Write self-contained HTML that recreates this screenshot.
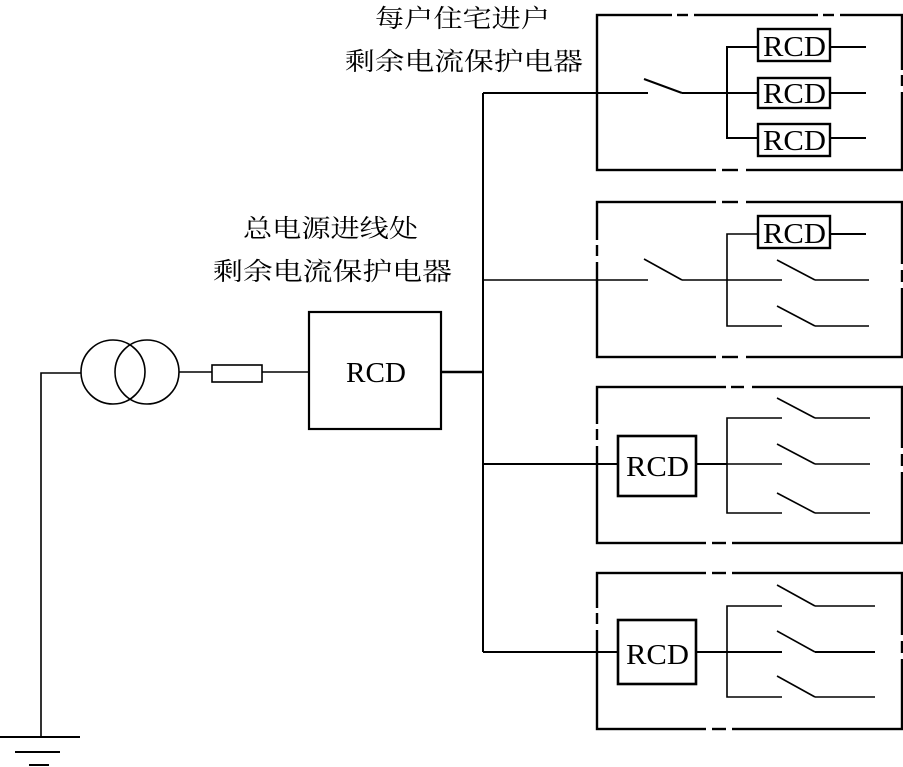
<!DOCTYPE html>
<html><head><meta charset="utf-8"><style>
html,body{margin:0;padding:0;background:#fff;}
svg{display:block;}
text{font-family:"Liberation Serif","Noto Serif CJK SC",serif;fill:#000;}
.cn{font-family:"Liberation Serif","Noto Sans CJK SC",sans-serif;font-size:25px;}
</style></head><body>
<svg width="903" height="767" viewBox="0 0 903 767" xmlns="http://www.w3.org/2000/svg">
<g stroke="#000" fill="none" stroke-width="1.6">
  <polyline points="41,737 41,373 81,373"/>
  <line x1="0" y1="737" x2="80" y2="737" stroke-width="2"/>
  <line x1="15" y1="752" x2="60" y2="752" stroke-width="2"/>
  <line x1="29" y1="765" x2="49" y2="765" stroke-width="2"/>
  <circle cx="113" cy="372" r="32"/>
  <circle cx="147" cy="372" r="32"/>
  <line x1="179" y1="372" x2="212" y2="372"/>
  <rect x="212" y="365" width="50" height="17"/>
  <line x1="262" y1="372" x2="309" y2="372"/>
  <rect x="309" y="312" width="132" height="117" stroke-width="2.2"/>
  <line x1="441" y1="372" x2="483" y2="372" stroke-width="2.6"/>
  <line x1="483" y1="93" x2="483" y2="652" stroke-width="2"/>
  <line x1="483" y1="93" x2="648" y2="93" stroke-width="2"/>
  <line x1="483" y1="280" x2="648" y2="280"/>
  <line x1="483" y1="464" x2="618" y2="464" stroke-width="2"/>
  <line x1="483" y1="652" x2="618" y2="652" stroke-width="2"/>

  <g stroke-width="2.4">
    <rect x="597" y="15" width="305" height="155"/>
    <rect x="597" y="202" width="305" height="155"/>
    <rect x="597" y="387" width="305" height="156"/>
    <rect x="597" y="573" width="305" height="156"/>
  </g>
  <g stroke="#fff" stroke-width="4">
    <line x1="672" y1="15" x2="677" y2="15"/><line x1="688" y1="15" x2="694" y2="15"/>
    <line x1="818" y1="15" x2="823" y2="15"/><line x1="834" y1="15" x2="840" y2="15"/>
    <line x1="716" y1="170" x2="722" y2="170"/><line x1="738" y1="170" x2="746" y2="170"/>
    <line x1="902" y1="70" x2="902" y2="75"/><line x1="902" y1="86" x2="902" y2="92"/>
    <line x1="716" y1="202" x2="722" y2="202"/><line x1="738" y1="202" x2="746" y2="202"/>
    <line x1="716" y1="357" x2="722" y2="357"/><line x1="738" y1="357" x2="746" y2="357"/>
    <line x1="597" y1="240" x2="597" y2="245"/><line x1="597" y1="256" x2="597" y2="262"/>
    <line x1="902" y1="264" x2="902" y2="270"/><line x1="902" y1="282" x2="902" y2="288"/>
    <line x1="726" y1="387" x2="731" y2="387"/><line x1="744" y1="387" x2="752" y2="387"/>
    <line x1="706" y1="543" x2="712" y2="543"/><line x1="726" y1="543" x2="732" y2="543"/>
    <line x1="597" y1="424" x2="597" y2="429"/><line x1="597" y1="440" x2="597" y2="446"/>
    <line x1="902" y1="448" x2="902" y2="454"/><line x1="902" y1="466" x2="902" y2="472"/>
    <line x1="706" y1="573" x2="712" y2="573"/><line x1="726" y1="573" x2="732" y2="573"/>
    <line x1="706" y1="729" x2="712" y2="729"/><line x1="726" y1="729" x2="732" y2="729"/>
    <line x1="597" y1="608" x2="597" y2="613"/><line x1="597" y1="624" x2="597" y2="630"/>
    <line x1="902" y1="635" x2="902" y2="641"/><line x1="902" y1="653" x2="902" y2="659"/>
  </g>

  <line x1="644" y1="79" x2="682" y2="93" stroke-width="2"/>
  <line x1="682" y1="93" x2="758" y2="93" stroke-width="2"/>
  <polyline points="758,47 727,47 727,138 758,138" stroke-width="2"/>
  <g stroke-width="2.4">
    <rect x="758" y="29" width="72" height="32"/>
    <rect x="758" y="78" width="72" height="30"/>
    <rect x="758" y="124" width="72" height="32"/>
  </g>
  <g stroke-width="2">
    <line x1="830" y1="47" x2="866" y2="47"/>
    <line x1="830" y1="93" x2="866" y2="93"/>
    <line x1="830" y1="138" x2="866" y2="138"/>
  </g>

  <line x1="644" y1="259" x2="682" y2="280"/>
  <line x1="682" y1="280" x2="782" y2="280"/>
  <polyline points="758,234 727,234 727,326 782,326"/>
  <rect x="758" y="216" width="72" height="32" stroke-width="2.4"/>
  <line x1="830" y1="234" x2="866" y2="234" stroke-width="2"/>
  <line x1="777" y1="260" x2="815" y2="280"/><line x1="815" y1="280" x2="869" y2="280"/>
  <line x1="777" y1="306" x2="815" y2="326"/><line x1="815" y1="326" x2="869" y2="326"/>

  <rect x="618" y="436" width="78" height="60" stroke-width="2.6"/>
  <line x1="696" y1="464" x2="727" y2="464" stroke-width="2"/>
  <polyline points="782,418 727,418 727,513 782,513"/>
  <line x1="727" y1="464" x2="782" y2="464"/>
  <line x1="777" y1="398" x2="815" y2="418"/><line x1="815" y1="418" x2="870" y2="418"/>
  <line x1="777" y1="444" x2="815" y2="464"/><line x1="815" y1="464" x2="870" y2="464"/>
  <line x1="777" y1="493" x2="815" y2="513"/><line x1="815" y1="513" x2="870" y2="513"/>

  <rect x="618" y="620" width="78" height="64" stroke-width="2.6"/>
  <line x1="696" y1="652" x2="727" y2="652" stroke-width="2"/>
  <polyline points="782,606 727,606 727,697 782,697"/>
  <line x1="727" y1="652" x2="782" y2="652" stroke-width="2"/>
  <line x1="777" y1="585" x2="815" y2="606"/><line x1="815" y1="606" x2="875" y2="606"/>
  <line x1="777" y1="631" x2="815" y2="652"/><line x1="815" y1="652" x2="875" y2="652" stroke-width="2"/>
  <line x1="777" y1="676" x2="815" y2="697"/><line x1="815" y1="697" x2="875" y2="697"/>
</g>

<g>
  <text x="346" y="382" font-size="28" textLength="60" lengthAdjust="spacingAndGlyphs">RCD</text>
  <text x="763" y="56" font-size="28" textLength="63" lengthAdjust="spacingAndGlyphs">RCD</text>
  <text x="763" y="103" font-size="28" textLength="63" lengthAdjust="spacingAndGlyphs">RCD</text>
  <text x="763" y="150" font-size="28" textLength="63" lengthAdjust="spacingAndGlyphs">RCD</text>
  <text x="763" y="243" font-size="28" textLength="63" lengthAdjust="spacingAndGlyphs">RCD</text>
  <text x="626" y="476" font-size="29" textLength="63" lengthAdjust="spacingAndGlyphs">RCD</text>
  <text x="626" y="664" font-size="29" textLength="63" lengthAdjust="spacingAndGlyphs">RCD</text>
</g>
<g class="cn">
  <text x="375" y="27" textLength="175" lengthAdjust="spacingAndGlyphs">每户住宅进户</text>
  <text x="345" y="70" textLength="238" lengthAdjust="spacingAndGlyphs">剩余电流保护电器</text>
  <text x="243" y="237" textLength="175" lengthAdjust="spacingAndGlyphs">总电源进线处</text>
  <text x="213" y="280" textLength="239" lengthAdjust="spacingAndGlyphs">剩余电流保护电器</text>
</g>
</svg>
</body></html>
